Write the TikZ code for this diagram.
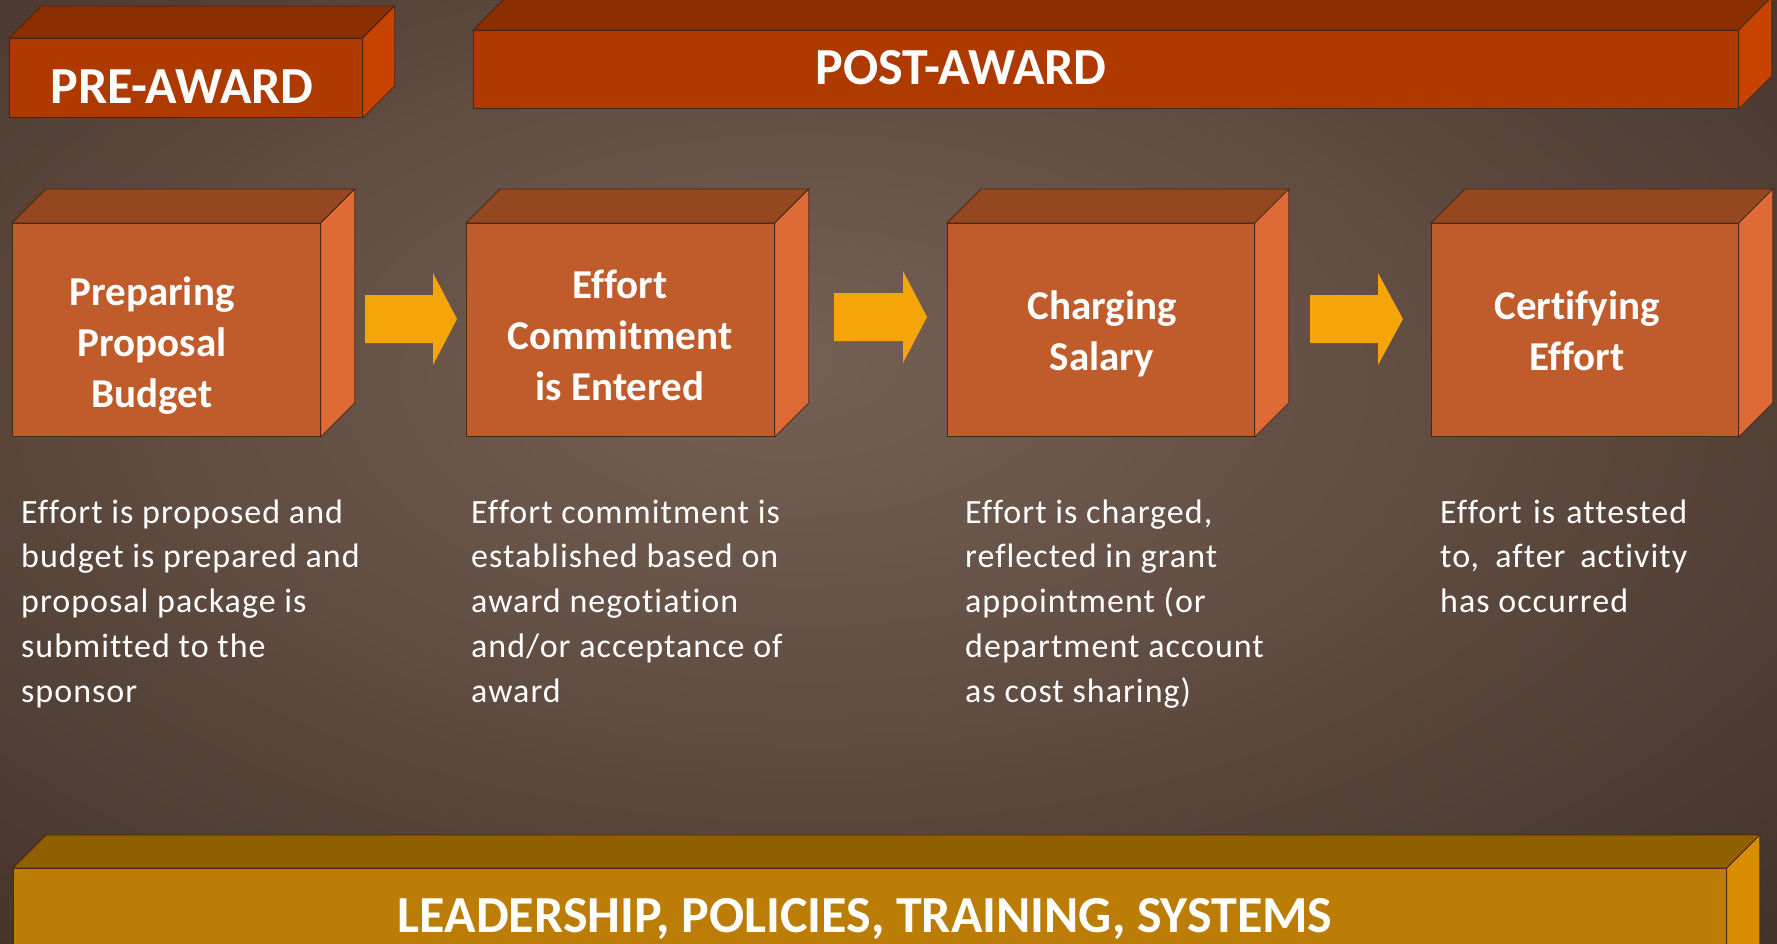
\documentclass[tikz,border=0pt]{standalone}
\usepackage{fontspec}
\setmainfont{Carlito}[Ligatures=NoCommon]
\newfontfamily\descfont{Carlito}[LetterSpace=3, Ligatures=NoCommon]
\usetikzlibrary{calc}
\definecolor{bgin}{RGB}{118,96,84}
\definecolor{bgmid}{RGB}{96,76,65}
\definecolor{bgout}{RGB}{62,45,36}
\definecolor{hdfront}{RGB}{174,58,0}
\definecolor{hdtop}{RGB}{138,46,0}
\definecolor{hdside}{RGB}{200,67,0}
\definecolor{bxfront}{RGB}{192,92,44}
\definecolor{bxtop}{RGB}{149,72,32}
\definecolor{bxside}{RGB}{222,106,53}
\definecolor{arrc}{RGB}{245,164,10}
\definecolor{btfront}{RGB}{187,125,5}
\definecolor{bttop}{RGB}{144,95,0}
\definecolor{btside}{RGB}{216,142,0}
\definecolor{edgec}{RGB}{70,40,25}
\pgfdeclareradialshading{bgshade}{\pgfpoint{-3bp}{6bp}}{color(0bp)=(bgin); color(18bp)=(bgmid); color(42bp)=(bgout); color(70bp)=(bgout)}
\tikzset{
  face/.style={draw=edgec, line width=0.8pt, inner sep=0pt},
  lbl/.style={font=\fontsize{41}{51}\selectfont\bfseries, text=white, align=center, inner sep=0pt, anchor=base},
  desc/.style={font=\descfont\fontsize{34}{44.7}\selectfont, text=white, align=left, inner sep=0pt, anchor=base west},
  ttl/.style={font=\fontsize{52}{60}\selectfont\bfseries, text=white, inner sep=0pt, anchor=base},
  blockarr/.style={fill=arrc}
}
\newcommand\cubebox[7]{%
  \node[face, fill=#7front, minimum width=#4pt, minimum height=#5pt, anchor=north west] (#1) at (#2,#3) {};
  \filldraw[face, fill=#7top] (#1.north west) -- ++(#6,-#6) -- ($(#1.north east)+(#6,-#6)$) -- (#1.north east) -- cycle;
  \filldraw[face, fill=#7side] (#1.north east) -- ++(#6,-#6) -- ($(#1.south east)+(#6,-#6)$) -- (#1.south east) -- cycle;
}
\newcommand\blockarrow[4]{%
  \fill[blockarr] (#1,#4-24) -- (#2,#4-24) -- (#2,#4-46) -- (#3,#4) -- (#2,#4+46) -- (#2,#4+24) -- (#1,#4+24) -- cycle;
}
\begin{document}
\begin{tikzpicture}[x=1pt, y=-1pt]
\useasboundingbox (0,0) rectangle (1777,944);
\clip (0,0) rectangle (1777,944);
\fill[shading=bgshade] (0,0) rectangle (1777,944);
% headers
\cubebox{pre}{9}{38}{353}{79}{32}{hd}
\cubebox{post}{473}{30}{1265}{78}{33}{hd}
\node[ttl] (pret) at (182,104) {PRE-AWARD};
\node[ttl] (postt) at (961,85) {POST-AWARD};
% step boxes
\cubebox{b1}{12}{223}{308}{213}{34}{bx}
\cubebox{b2}{466}{223}{308}{213}{34}{bx}
\cubebox{b3}{947}{223}{307}{213}{34}{bx}
\cubebox{b4}{1431}{223}{307}{213}{34}{bx}
% (base anchor = baseline of the last line)
\node[lbl] (l1) at (152,407) {Preparing\\Proposal\\Budget};
\node[lbl] (l2) at (620,400) {Effort\\Commitment\\is Entered};
\node[lbl] (l3) at (1102,370) {Charging\\Salary};
\node[lbl] (l4) at (1577,370) {Certifying\\Effort};
% arrows
\blockarrow{365}{433}{457}{319}
\blockarrow{834}{903}{927}{317}
\blockarrow{1310}{1378}{1403}{319}
% descriptions
\node[desc] (d1) at (21,702) {Effort is proposed and\\budget is prepared and\\proposal package is\\submitted to the\\sponsor};
\node[desc] (d2) at (471,702) {Effort commitment is\\established based on\\award negotiation\\and/or acceptance of\\award};
\node[desc] (d3) at (965,702) {Effort is charged,\\reflected in grant\\appointment (or\\department account\\as cost sharing)};
\node[desc] (d4) at (1440,612.4) {\makebox[247pt][s]{Effort is attested}\\\makebox[247pt][s]{to, after activity}\\has occurred};
% bottom bar
\cubebox{bot}{13}{868}{1713}{120}{33}{bt}
\node[ttl] (bott) at (865,932) {LEADERSHIP, POLICIES, TRAINING, SYSTEMS};
\end{tikzpicture}
\end{document}
